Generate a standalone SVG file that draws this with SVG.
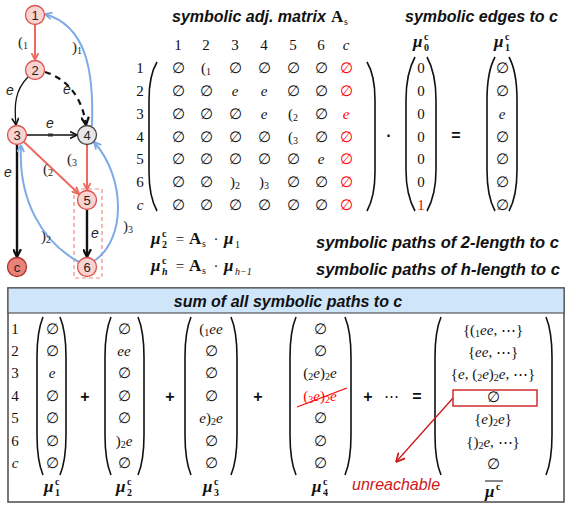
<svg xmlns="http://www.w3.org/2000/svg" width="565" height="506" viewBox="0 0 565 506">
<style>
.bg{fill:#fff}
.nd{fill:#f9d3cf;stroke:#d9534f;stroke-width:1.3}
.n4{fill:#e6e6e6;stroke:#444;stroke-width:1.3}
.nc{fill:#e8837b;stroke:#b0302a;stroke-width:1.3}
.nl{font-family:"Liberation Sans",Arial,sans-serif;font-size:13px;fill:#222;text-anchor:middle}
.er{stroke:#ee6a5f;stroke-width:2;fill:none}
.eb{stroke:#111;stroke-width:1.3;fill:none}
.ebt{stroke:#111;stroke-width:2.4;fill:none}
.eu{stroke:#7eaae6;stroke-width:2;fill:none}
.el{font-family:"Liberation Sans",Arial,sans-serif;font-style:italic;font-size:14px;fill:#222;text-anchor:middle}
.pl{font-family:"Liberation Serif","DejaVu Serif",serif;font-size:15px;fill:#222}
.m{font-family:"Liberation Serif","DejaVu Serif",serif;font-size:15px;fill:#111;text-anchor:middle}
.i{font-style:italic}
.s{font-size:10px}
.r{fill:#f00}
.t{font-family:"Liberation Sans",Arial,sans-serif;font-weight:bold;font-style:italic;font-size:16px;fill:#111}
.mu{font-family:"Liberation Serif","DejaVu Serif",serif;font-weight:bold;font-style:italic;font-size:17px;fill:#111}
.ms{font-family:"Liberation Serif","DejaVu Serif",serif;font-weight:bold;font-size:10px;fill:#111}
.A{font-family:"Liberation Serif","DejaVu Serif",serif;font-weight:bold;font-size:17px;fill:#111}
.par{stroke:#111;stroke-width:1.6;fill:none}
.op{font-family:"Liberation Sans",Arial,sans-serif;font-weight:bold;font-size:16px;fill:#111;text-anchor:middle}
</style>
<defs>
<marker id="ar" viewBox="0 0 8 8" markerWidth="8" markerHeight="8" refX="7.5" refY="4" orient="auto" markerUnits="userSpaceOnUse"><path d="M0.5,0.5 L7.5,4 L0.5,7.5" fill="none" stroke="#ee6a5f" stroke-width="1.8"/></marker>
<marker id="ak" viewBox="0 0 8 8" markerWidth="8" markerHeight="8" refX="7.5" refY="4" orient="auto" markerUnits="userSpaceOnUse"><path d="M0.5,0.5 L7.5,4 L0.5,7.5" fill="none" stroke="#111" stroke-width="1.6"/></marker>
<marker id="akt" viewBox="0 0 8 8" markerWidth="9" markerHeight="9" refX="7.5" refY="4" orient="auto" markerUnits="userSpaceOnUse"><path d="M0.5,0.5 L7.5,4 L0.5,7.5" fill="none" stroke="#111" stroke-width="2"/></marker>
<marker id="au" viewBox="0 0 8 8" markerWidth="8" markerHeight="8" refX="7.5" refY="4" orient="auto" markerUnits="userSpaceOnUse"><path d="M0.5,0.5 L7.5,4 L0.5,7.5" fill="none" stroke="#7eaae6" stroke-width="1.8"/></marker>
<marker id="ared" viewBox="0 0 8 8" markerWidth="10" markerHeight="10" refX="7.5" refY="4" orient="auto" markerUnits="userSpaceOnUse"><path d="M0.5,0.5 L7.5,4 L0.5,7.5" fill="none" stroke="#d01818" stroke-width="1.4"/></marker>
</defs>
<rect class="bg" x="0" y="0" width="565" height="506"/>

<!-- group rectangle -->
<rect x="74" y="189" width="28" height="89" fill="none" stroke="#f08a80" stroke-width="1.2" stroke-dasharray="4,3"/>

<g id="connectors">
<line class="er" x1="35" y1="25" x2="35" y2="60" marker-end="url(#ar)"/>
<path class="eb" d="M28,77 C15,90 14,105 16,125" marker-end="url(#ak)"/>
<path d="M45,72 C65,78 82,95 86,125" fill="none" stroke="#111" stroke-width="2.2" stroke-dasharray="6,5" marker-end="url(#akt)"/>
<line class="eb" x1="27" y1="135" x2="77" y2="135" marker-end="url(#ak)"/>
<rect x="48" y="133.5" width="5" height="3" fill="#333"/>
<line class="ebt" x1="17" y1="145" x2="17" y2="257" marker-end="url(#akt)"/>
<line class="er" x1="24" y1="142" x2="79" y2="194" marker-end="url(#ar)"/>
<line class="er" x1="87" y1="145" x2="87" y2="190" marker-end="url(#ar)"/>
<line class="ebt" x1="87" y1="210" x2="87" y2="257" marker-end="url(#akt)"/>
<path class="eu" d="M92,126 C94,70 86,26 45,14" marker-end="url(#au)"/>
<path class="eu" d="M79,262 C42,242 18,200 21,145" marker-end="url(#au)"/>
<path class="eu" d="M94,261 C126,240 126,178 94,142" marker-end="url(#au)"/>
<text class="pl" x="18" y="47">(<tspan class="s" dy="2">1</tspan></text>
<text class="pl" x="72" y="52">)<tspan class="s" dy="2">1</tspan></text>
<text class="el" x="10" y="95">e</text>
<text class="el" x="67" y="94">e</text>
<text class="el" x="50" y="128">e</text>
<text class="el" x="8" y="177">e</text>
<text class="pl" x="43" y="174">(<tspan class="s" dy="2">2</tspan></text>
<text class="pl" x="67" y="164">(<tspan class="s" dy="2">3</tspan></text>
<text class="el" x="95" y="238">e</text>
<text class="pl" x="41" y="241">)<tspan class="s" dy="2">2</tspan></text>
<text class="pl" x="123" y="231">)<tspan class="s" dy="2">3</tspan></text>
</g>

<g id="n1"><circle class="nd" cx="35" cy="15" r="9.5"/><text class="nl" x="35" y="19.5">1</text></g>
<g id="n2"><circle class="nd" cx="35" cy="70" r="9.5"/><text class="nl" x="35" y="74.5">2</text></g>
<g id="n3"><circle class="nd" cx="17" cy="135" r="9.5"/><text class="nl" x="17" y="139.5">3</text></g>
<g id="n4"><circle class="n4" cx="87" cy="135" r="9.5"/><text class="nl" x="87" y="139.5">4</text></g>
<g id="n5"><circle class="nd" cx="87" cy="200" r="9.5"/><text class="nl" x="87" y="204.5">5</text></g>
<g id="n6"><circle class="nd" cx="87" cy="267" r="9.5"/><text class="nl" x="87" y="271.5">6</text></g>
<g id="nc"><circle class="nc" cx="17" cy="267" r="9.5"/><text class="nl" x="17" y="271.5">c</text></g>

<!-- Titles -->
<text class="t" x="172" y="22">symbolic adj. matrix</text>
<text class="A" x="331" y="22">A</text><text class="m s" x="346" y="25">s</text>
<text class="t" x="405" y="22">symbolic edges to c</text>

<!-- Matrix -->
<g id="matrix">
<g class="m">
<text x="178" y="50">1</text><text x="206" y="50">2</text><text x="235" y="50">3</text><text x="264" y="50">4</text><text x="293" y="50">5</text><text x="321" y="50">6</text><text x="346" y="50" class="i">c</text>
<text x="140" y="73">1</text><text x="140" y="96">2</text><text x="140" y="118.5">3</text><text x="140" y="141.5">4</text><text x="140" y="164">5</text><text x="140" y="187">6</text><text x="140" y="210" class="i">c</text>
</g>
<path class="par" d="M157,62 C151,72 149,85 149,100 L149,172 C149,187 151,200 157,211"/>
<path class="par" d="M367,62 C373,72 375,85 375,100 L375,172 C375,187 373,200 367,211"/>
<g class="m">
<text x="178" y="73">∅</text><text x="206" y="73">(<tspan class="s" dy="2">1</tspan></text><text x="235" y="73">∅</text><text x="264" y="73">∅</text><text x="293" y="73">∅</text><text x="321" y="73">∅</text><text x="346" y="73" class="r">∅</text>
<text x="178" y="96">∅</text><text x="206" y="96">∅</text><text x="235" y="96" class="i">e</text><text x="264" y="96" class="i">e</text><text x="293" y="96">∅</text><text x="321" y="96">∅</text><text x="346" y="96" class="r">∅</text>
<text x="178" y="118.5">∅</text><text x="206" y="118.5">∅</text><text x="235" y="118.5">∅</text><text x="264" y="118.5" class="i">e</text><text x="293" y="118.5">(<tspan class="s" dy="2">2</tspan></text><text x="321" y="118.5">∅</text><text x="346" y="118.5" class="r i">e</text>
<text x="178" y="141.5">∅</text><text x="206" y="141.5">∅</text><text x="235" y="141.5">∅</text><text x="264" y="141.5">∅</text><text x="293" y="141.5">(<tspan class="s" dy="2">3</tspan></text><text x="321" y="141.5">∅</text><text x="346" y="141.5" class="r">∅</text>
<text x="178" y="164">∅</text><text x="206" y="164">∅</text><text x="235" y="164">∅</text><text x="264" y="164">∅</text><text x="293" y="164">∅</text><text x="321" y="164" class="i">e</text><text x="346" y="164" class="r">∅</text>
<text x="178" y="187">∅</text><text x="206" y="187">∅</text><text x="235" y="187">)<tspan class="s" dy="2">2</tspan></text><text x="264" y="187">)<tspan class="s" dy="2">3</tspan></text><text x="293" y="187">∅</text><text x="321" y="187">∅</text><text x="346" y="187" class="r">∅</text>
<text x="178" y="210">∅</text><text x="206" y="210">∅</text><text x="235" y="210">∅</text><text x="264" y="210">∅</text><text x="293" y="210">∅</text><text x="321" y="210">∅</text><text x="346" y="210" class="r">∅</text>
</g>
</g>

<text class="op" x="389" y="141">·</text>

<!-- mu0 -->
<g id="mu0">
<text class="mu" x="413" y="47">μ</text><text class="ms" x="424" y="40">c</text><text class="ms" x="424" y="51">0</text>
<path class="par" d="M415,57 C409,68 406,85 406,100 L406,170 C406,185 409,200 415,211"/>
<path class="par" d="M427,57 C433,68 436,85 436,100 L436,170 C436,185 433,200 427,211"/>
<g class="m"><text x="421" y="73">0</text><text x="421" y="96">0</text><text x="421" y="118.5">0</text><text x="421" y="141.5">0</text><text x="421" y="164">0</text><text x="421" y="187">0</text><text x="421" y="210" class="r">1</text></g>
</g>
<text class="op" x="456" y="141">=</text>
<!-- mu1 -->
<g id="mu1">
<text class="mu" x="494" y="47">μ</text><text class="ms" x="505" y="40">c</text><text class="ms" x="505" y="51">1</text>
<path class="par" d="M495,57 C489,68 487,85 487,100 L487,170 C487,185 489,200 495,211"/>
<path class="par" d="M509,57 C515,68 517,85 517,100 L517,170 C517,185 515,200 509,211"/>
<g class="m"><text x="502" y="73">∅</text><text x="502" y="96">∅</text><text x="502" y="118.5" class="i">e</text><text x="502" y="141.5">∅</text><text x="502" y="164">∅</text><text x="502" y="187">∅</text><text x="502" y="210">∅</text></g>
</g>

<!-- formulas -->
<g id="formulas">
<text class="mu" x="151" y="244">μ</text><text class="ms" x="162" y="237">c</text><text class="ms" x="162" y="248">2</text>
<text class="m" x="180" y="244">=</text>
<text class="A" x="189" y="244">A</text><text class="m s" x="204" y="247">s</text>
<text class="m" x="216" y="244">·</text>
<text class="mu" x="224" y="244">μ</text><text class="ms" x="235" y="248" style="font-weight:normal">1</text>
<text class="mu" x="151" y="271">μ</text><text class="ms" x="162" y="264">c</text><text class="ms" x="162" y="275" style="font-style:italic">h</text>
<text class="m" x="180" y="271">=</text>
<text class="A" x="189" y="271">A</text><text class="m s" x="204" y="274">s</text>
<text class="m" x="216" y="271">·</text>
<text class="mu" x="224" y="271">μ</text><text class="ms" x="235" y="275" style="font-weight:normal;font-style:italic">h−1</text>
<text class="t" x="316" y="248" style="font-size:16.5px">symbolic paths of 2-length to c</text>
<text class="t" x="316" y="275" style="font-size:16.5px">symbolic paths of h-length to c</text>
</g>

<!-- bottom box -->
<g id="sum">
<rect x="8" y="288" width="556" height="214" fill="#fff" stroke="#555" stroke-width="1.6"/>
<rect x="8" y="288" width="556" height="25" fill="#cfe5fa" stroke="#555" stroke-width="1.2"/>
<text class="t" x="288" y="307" text-anchor="middle">sum of all symbolic paths to c</text>
<g class="m">
<text x="15" y="334">1</text><text x="15" y="356">2</text><text x="15" y="378">3</text><text x="15" y="401">4</text><text x="15" y="423">5</text><text x="15" y="446">6</text><text x="15" y="468" class="i">c</text>
</g>
<path class="par" d="M43,317 C38,329 37,342 37,357 L37,435 C37,450 38,463 43,475"/>
<path class="par" d="M60,317 C65,329 66,342 66,357 L66,435 C66,450 65,463 60,475"/>
<g class="m"><text x="52" y="334">∅</text><text x="52" y="356">∅</text><text x="52" y="378" class="i">e</text><text x="52" y="401">∅</text><text x="52" y="423">∅</text><text x="52" y="446">∅</text><text x="52" y="468">∅</text></g>
<text class="op" x="85" y="402">+</text>
<path class="par" d="M111,317 C106,329 105,342 105,357 L105,435 C105,450 106,463 111,475"/>
<path class="par" d="M138,317 C143,329 144,342 144,357 L144,435 C144,450 143,463 138,475"/>
<g class="m"><text x="124" y="334">∅</text><text x="124" y="356" class="i">ee</text><text x="124" y="378">∅</text><text x="124" y="401">∅</text><text x="124" y="423">∅</text><text x="124" y="446">)<tspan class="s" dy="2">2</tspan><tspan class="i" dy="-2">e</tspan></text><text x="124" y="468">∅</text></g>
<text class="op" x="170" y="402">+</text>
<path class="par" d="M191,317 C186,329 185,342 185,357 L185,435 C185,450 186,463 191,475"/>
<path class="par" d="M231,317 C236,329 237,342 237,357 L237,435 C237,450 236,463 231,475"/>
<g class="m"><text x="211" y="334">(<tspan class="s" dy="2">1</tspan><tspan class="i" dy="-2">ee</tspan></text><text x="211" y="356">∅</text><text x="211" y="378">∅</text><text x="211" y="401">∅</text><text x="211" y="423"><tspan class="i">e</tspan>)<tspan class="s" dy="2">2</tspan><tspan class="i" dy="-2">e</tspan></text><text x="211" y="446">∅</text><text x="211" y="468">∅</text></g>
<text class="op" x="258" y="402">+</text>
<path class="par" d="M296,317 C291,329 290,342 290,357 L290,435 C290,450 291,463 296,475"/>
<path class="par" d="M345,317 C350,329 351,342 351,357 L351,435 C351,450 350,463 345,475"/>
<g class="m"><text x="320" y="334">∅</text><text x="320" y="356">∅</text><text x="320" y="378">(<tspan class="s" dy="2">2</tspan><tspan class="i" dy="-2">e</tspan>)<tspan class="s" dy="2">2</tspan><tspan class="i" dy="-2">e</tspan></text><text x="320" y="401" class="r">(<tspan class="s" dy="2">3</tspan><tspan class="i" dy="-2">e</tspan>)<tspan class="s" dy="2">2</tspan><tspan class="i" dy="-2">e</tspan></text><text x="320" y="423">∅</text><text x="320" y="446">∅</text><text x="320" y="468">∅</text></g>
<line x1="297" y1="407" x2="347" y2="388" stroke="#f00" stroke-width="1.2"/>
<text class="op" x="368" y="402">+</text>
<text class="m" x="391" y="401">⋯</text>
<text class="op" x="417" y="402">=</text>
<path class="par" d="M441,317 C436,329 435,342 435,357 L435,435 C435,450 436,463 441,475"/>
<path class="par" d="M546,317 C551,329 552,342 552,357 L552,435 C552,450 551,463 546,475"/>
<g class="m">
<text x="493" y="335">{(<tspan class="s" dy="2">1</tspan><tspan class="i" dy="-2">ee</tspan>, ⋯}</text>
<text x="493" y="357">{<tspan class="i">ee</tspan>, ⋯}</text>
<text x="493" y="379">{<tspan class="i">e</tspan>, (<tspan class="s" dy="2">2</tspan><tspan class="i" dy="-2">e</tspan>)<tspan class="s" dy="2">2</tspan><tspan class="i" dy="-2">e</tspan>, ⋯}</text>
<text x="493" y="402">∅</text>
<text x="493" y="424">{<tspan class="i">e</tspan>)<tspan class="s" dy="2">2</tspan><tspan class="i" dy="-2">e</tspan>}</text>
<text x="493" y="447">{)<tspan class="s" dy="2">2</tspan><tspan class="i" dy="-2">e</tspan>, ⋯}</text>
<text x="493" y="469">∅</text>
</g>
<rect x="453" y="390" width="84" height="16" fill="none" stroke="#cc2020" stroke-width="1.4"/>
<line x1="453" y1="398" x2="396" y2="462" stroke="#d01818" stroke-width="1.3" marker-end="url(#ared)"/>
<text x="352" y="490" style="font-family:'Liberation Sans',Arial,sans-serif;font-style:italic;font-size:16px;fill:#d01818">unreachable</text>
<text class="mu" x="44" y="492">μ</text><text class="ms" x="55" y="485">c</text><text class="ms" x="55" y="496">1</text>
<text class="mu" x="116" y="492">μ</text><text class="ms" x="127" y="485">c</text><text class="ms" x="127" y="496">2</text>
<text class="mu" x="203" y="492">μ</text><text class="ms" x="214" y="485">c</text><text class="ms" x="214" y="496">3</text>
<text class="mu" x="312" y="492">μ</text><text class="ms" x="323" y="485">c</text><text class="ms" x="323" y="496">4</text>
<line x1="485" y1="481" x2="503" y2="481" stroke="#111" stroke-width="1"/>
<text class="mu" x="485" y="497">μ</text><text class="ms" x="496" y="490">c</text>
</g>
</svg>
